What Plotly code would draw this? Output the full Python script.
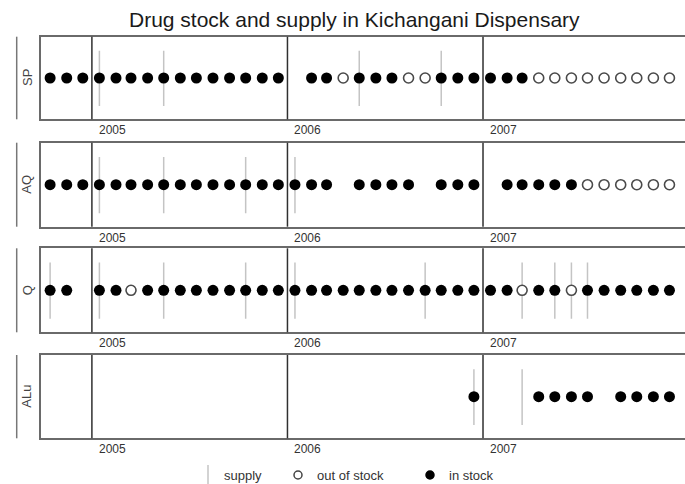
"""
plot.py
Drug stock and supply in Kichangani Dispensary, one strip per drug.
Writes: out.html
"""

import pandas as pd
import plotly.graph_objects as go

# ── Data ───────────────────────────────────────────────────────────────────
# one value per month, Oct 2004 .. Dec 2007: 1 = in stock, 0 = out of stock,
# None = no record
MONTHS = pd.date_range("2004-10-01", "2007-12-01", freq="MS")

DRUGS = ["SP", "AQ", "Q", "ALu"]

SP_STOCK = [1, 1, 1,
            1, 1, 1, 1, 1, 1, 1, 1, 1, 1, 1, 1,
            None, 1, 1, 0, 1, 1, 1, 0, 0, 1, 1, 1,
            1, 1, 1, 0, 0, 0, 0, 0, 0, 0, 0, 0]
AQ_STOCK = [1, 1, 1,
            1, 1, 1, 1, 1, 1, 1, 1, 1, 1, 1, 1,
            1, 1, 1, None, 1, 1, 1, 1, None, 1, 1, 1,
            None, 1, 1, 1, 1, 1, 0, 0, 0, 0, 0, 0]
Q_STOCK = [1, 1, None,
           1, 1, 0, 1, 1, 1, 1, 1, 1, 1, 1, 1,
           1, 1, 1, 1, 1, 1, 1, 1, 1, 1, 1, 1,
           1, 1, 0, 1, 1, 0, 1, 1, 1, 1, 1, 1]
ALU_STOCK = [None, None, None,
             None, None, None, None, None, None, None, None, None, None, None, None,
             None, None, None, None, None, None, None, None, None, None, None, 1,
             None, None, None, 1, 1, 1, 1, None, 1, 1, 1, 1]

SP_SUPPLY = ["2005-01", "2005-05", "2006-05", "2006-10"]
AQ_SUPPLY = ["2005-01", "2005-05", "2005-10", "2006-01"]
Q_SUPPLY = ["2004-10", "2005-01", "2005-05", "2005-10", "2006-01",
            "2006-09", "2007-03", "2007-05", "2007-06", "2007-07"]
ALU_SUPPLY = ["2006-12", "2007-03"]

YEARS = ["2005", "2006", "2007"]

STOCK = {"SP": SP_STOCK, "AQ": AQ_STOCK, "Q": Q_STOCK, "ALu": ALU_STOCK}
SUPPLY = {"SP": SP_SUPPLY, "AQ": AQ_SUPPLY, "Q": Q_SUPPLY, "ALu": ALU_SUPPLY}

# ── Layout in pixels (margins are 0, so paper == page) ─────────────────────
W, H = 685, 484
PANELS = [(36.7, 119.3), (142.7, 226.7), (248.3, 332.3), (355.0, 438.3)]
LEFT = 41
FONT = "Liberation Sans, Arial, sans-serif"


def px_x(px):
    return px / W


def px_y(py):
    return 1 - py / H


def mid(month):
    return pd.Timestamp(month) + pd.Timedelta(days=14)


# ── Figure ─────────────────────────────────────────────────────────────────
fig = go.Figure()
shapes, annots = [], []

for i, drug in enumerate(DRUGS):
    sfx = "" if i == 0 else str(i + 1)
    xa, ya = "x" + sfx, "y" + sfx
    top, bot = PANELS[i]

    # supply: thin grey vertical bars
    xs, ys = [], []
    for m in SUPPLY[drug]:
        xs += [mid(m), mid(m), None]
        ys += [0.16, 0.83, None]
    fig.add_trace(go.Scatter(
        x=xs, y=ys, mode="lines", xaxis=xa, yaxis=ya,
        line=dict(color="#c4c4c4", width=1.5),
        hoverinfo="skip", showlegend=False,
    ))

    s = pd.Series(STOCK[drug], index=MONTHS + pd.Timedelta(days=14))
    out_ = s[s == 0]
    in_ = s[s == 1]
    fig.add_trace(go.Scatter(
        x=out_.index, y=[0.5] * len(out_), mode="markers", xaxis=xa, yaxis=ya,
        marker=dict(color="white", size=10, line=dict(color="#4a4a4a", width=1.6)),
        name="out of stock", showlegend=False,
    ))
    fig.add_trace(go.Scatter(
        x=in_.index, y=[0.5] * len(in_), mode="markers", xaxis=xa, yaxis=ya,
        marker=dict(color="black", size=11),
        name="in stock", showlegend=False,
    ))

    fig.layout["xaxis" + sfx] = dict(
        type="date", range=["2004-09-28", "2008-01-13"],
        domain=[px_x(LEFT), 1], anchor=ya,
        showticklabels=False, showgrid=False, zeroline=False, ticks="",
        showline=True, mirror=True, linecolor="#6a6a6a", linewidth=1.5,
    )
    fig.layout["yaxis" + sfx] = dict(
        range=[0, 1], domain=[px_y(bot), px_y(top)], anchor=xa,
        showticklabels=False, showgrid=False, zeroline=False, ticks="",
        showline=True, linecolor="#6a6a6a", linewidth=1.5,
    )

    # year boundaries + labels
    for yr in YEARS:
        shapes.append(dict(
            type="line", xref=xa, yref=ya + " domain",
            x0=f"{yr}-01-01", x1=f"{yr}-01-01", y0=0, y1=1,
            line=dict(color="#303030", width=1.5),
        ))
        annots.append(dict(
            text=yr, xref=xa, yref="paper", x=f"{yr}-01-01", xanchor="left",
            xshift=5, y=px_y(bot + 11), yanchor="middle", showarrow=False,
            font=dict(family=FONT, size=12, color="#333"),
        ))

    # strip label on the left
    shapes.append(dict(
        type="line", xref="paper", yref="paper",
        x0=px_x(16.7), x1=px_x(16.7), y0=px_y(bot), y1=px_y(top),
        line=dict(color="#777", width=1.5),
    ))
    annots.append(dict(
        text=drug, xref="paper", yref="paper", x=px_x(27), y=px_y((top + bot) / 2),
        textangle=-90, showarrow=False, xanchor="center", yanchor="middle",
        font=dict(family=FONT, size=13, color="#444"),
    ))

# ── Title ──────────────────────────────────────────────────────────────────
annots.append(dict(
    text="Drug stock and supply in Kichangani Dispensary",
    xref="paper", yref="paper", x=px_x(354), y=px_y(20),
    xanchor="center", yanchor="middle", showarrow=False,
    font=dict(family=FONT, size=21, color="#1a1a1a"),
))

# ── Legend (drawn by hand) ─────────────────────────────────────────────────
LEG_Y = 475
shapes.append(dict(
    type="line", xref="paper", yref="paper",
    x0=px_x(208), x1=px_x(208), y0=px_y(465), y1=px_y(484),
    line=dict(color="#c4c4c4", width=1.5),
))
for cx, fill, lc in [(298, "white", "#444"), (430, "black", "black")]:
    shapes.append(dict(
        type="circle", xref="paper", yref="paper",
        xsizemode="pixel", ysizemode="pixel",
        xanchor=px_x(cx), yanchor=px_y(LEG_Y),
        x0=-4, x1=4, y0=-4, y1=4,
        fillcolor=fill, line=dict(color=lc, width=1.5),
    ))
for tx, label in [(222, "supply"), (315, "out of stock"), (447, "in stock")]:
    annots.append(dict(
        text=label, xref="paper", yref="paper", x=px_x(tx), y=px_y(LEG_Y),
        xanchor="left", yanchor="middle", showarrow=False,
        font=dict(family=FONT, size=13, color="#333"),
    ))

fig.update_layout(
    width=W, height=H,
    margin=dict(l=0, r=0, t=0, b=0),
    plot_bgcolor="white", paper_bgcolor="white",
    shapes=shapes, annotations=annots,
    showlegend=False,
)

# page has an 8px body margin by default; drop it so the figure sits at 0,0
fig.write_html(
    "out.html",
    config={"displayModeBar": False},
    post_script="document.body.style.margin='0';document.body.style.overflow='hidden';",
)
